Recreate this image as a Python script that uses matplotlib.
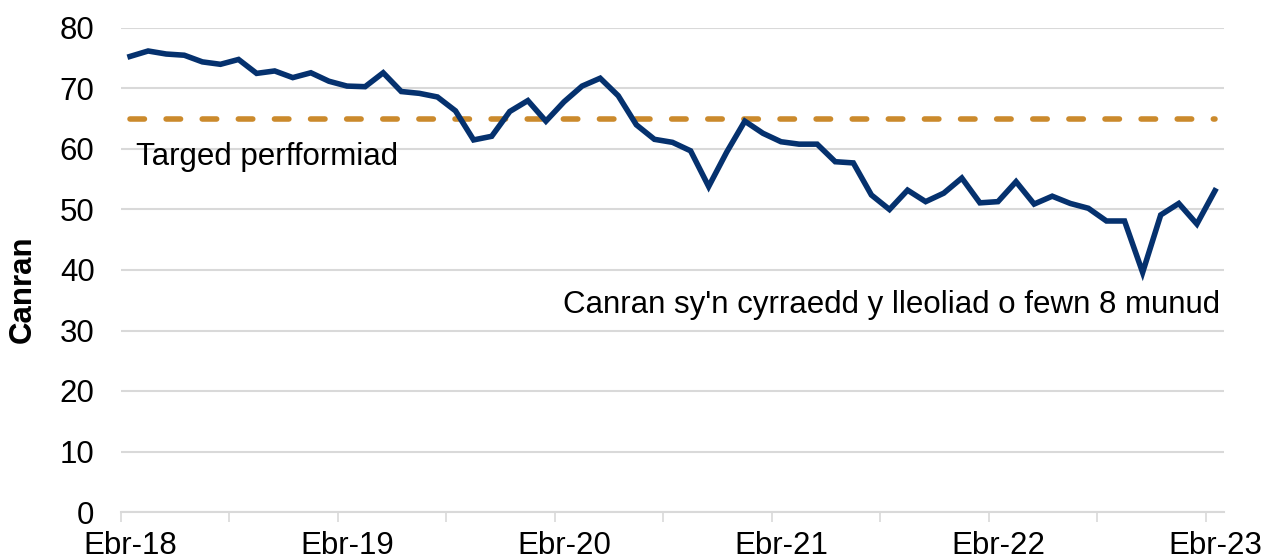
import matplotlib
matplotlib.use("Agg")
import matplotlib.pyplot as plt
import numpy as np

plt.rcParams['font.family'] = ['Liberation Sans', 'DejaVu Sans']

# Monthly values, Apr 2018 - Apr 2023
values = [75.3, 76.2, 75.7, 75.5, 74.4, 74.0, 74.8, 72.5, 72.9, 71.8,
          72.6, 71.2, 70.4, 70.3, 72.6, 69.5, 69.2, 68.6, 66.3, 61.5,
          62.1, 66.2, 68.0, 64.6, 67.8, 70.4, 71.7, 68.8, 64.0, 61.6,
          61.1, 59.7, 53.8, 59.5, 64.6, 62.6, 61.2, 60.8, 60.8, 57.9,
          57.7, 52.4, 50.0, 53.2, 51.3, 52.7, 55.2, 51.1, 51.3, 54.6,
          50.9, 52.2, 51.0, 50.2, 48.1, 48.1, 39.6, 49.1, 51.0, 47.6, 53.1]
target = [65] * len(values)
tick_labels = ["Ebr-18", "Ebr-19", "Ebr-20", "Ebr-21", "Ebr-22", "Ebr-23"]
yticks = [0, 10, 20, 30, 40, 50, 60, 70, 80]

FS = 22.5

fig = plt.figure(figsize=(12.63, 5.6), dpi=100)
ax = fig.add_axes([121/1263, 1 - 512/560, (1224 - 121)/1263, (512 - 28)/560])

x = np.arange(len(values)) + 0.5
ax.plot(x, target, color='#CB8A2C', lw=4.0, dashes=(2.6, 3.9),
        dash_capstyle='round', zorder=3)
ax.plot(x, values, color='#05316E', lw=4.0, solid_joinstyle='miter', zorder=4)

ax.set_xlim(0, len(values))
ax.set_ylim(0, 80)
ax.set_yticks(yticks)
ax.grid(axis='y', color='#D9D9D9', lw=1.5)
ax.set_axisbelow(True)
ax.tick_params(axis='y', length=0, pad=19, labelsize=FS)

# tick marks at category boundaries every 6 months, labels at category centres
ax.set_xticks(np.arange(0, len(values) + 1, 6))
ax.set_xticklabels([])
ax.tick_params(axis='x', which='major', length=7, width=1.2, color='#D9D9D9')
ax.set_xticks(np.arange(0, len(values), 12) + 0.5, minor=True)
ax.set_xticklabels(tick_labels, minor=True)
ax.tick_params(axis='x', which='minor', length=0, labelsize=FS, pad=14)

for s in ['left', 'right', 'top']:
    ax.spines[s].set_visible(False)
ax.spines['bottom'].set_color('#D9D9D9')
ax.spines['bottom'].set_linewidth(1.5)

ax.text(0.85, 58.7, "Targed perfformiad", fontsize=FS, va='center', ha='left')
ax.text(60.8, 34.2, "Canran sy'n cyrraedd y lleoliad o fewn 8 munud",
        fontsize=FS, va='center', ha='right')

fig.text(23/1263, 1 - 289/560, "Canran", rotation=90, fontsize=FS,
         fontweight='bold', va='center', ha='center')

fig.savefig("out.png", dpi=100)
